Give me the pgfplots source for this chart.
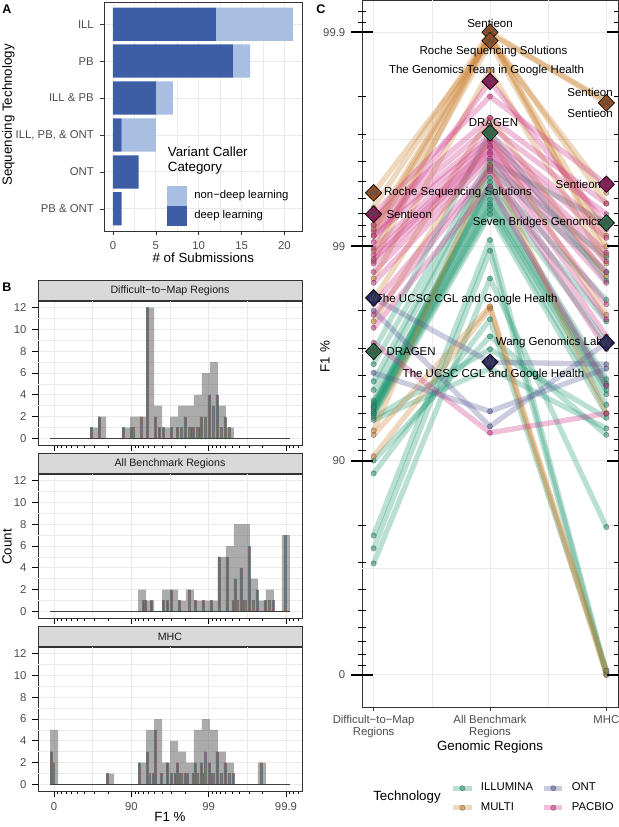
\documentclass[border=0pt]{standalone}
\usepackage{fontspec}
\setmainfont{Liberation Sans}
\usepackage{pgfplots}
\usepackage{pgfplotstable}
\pgfplotsset{compat=1.18}

\definecolor{deep}{RGB}{61,93,165}
\definecolor{nondeep}{RGB}{168,191,225}
\definecolor{ill}{RGB}{27,150,110}
\definecolor{multi}{RGB}{200,125,40}
\definecolor{ont}{RGB}{85,85,150}
\definecolor{pb}{RGB}{205,45,135}
\definecolor{illD}{RGB}{45,110,75}
\definecolor{multiD}{RGB}{150,80,35}
\definecolor{ontD}{RGB}{40,40,95}
\definecolor{pbD}{RGB}{140,25,90}

\newcommand\ticksz{\fontsize{6.8}{7.8}\selectfont}
\newcommand\titsz{\fontsize{8}{9.2}\selectfont}
\newcommand\stripsz{\fontsize{6.4}{7}\selectfont}
\newcommand\labsz{\fontsize{6.9}{7.5}\selectfont}

% histogram counts, bin k is centred at k*0.103448 (phred-like F1 scale)
\pgfplotstableread{
k all ill multi ont pb
5 1 1 0 0 0
6 2 2 0 0 0
9 1 1 0 0 0
10 2 1 1 0 0
11 2 0 2 0 0
12 12 12 0 0 0
13 3 2 0 1 0
14 1 1 0 0 0
15 2 1 0 0 1
16 3 0 1 0 2
17 3 0 1 1 1
18 4 0 1 1 2
19 6 0 2 0 4
20 7 0 3 0 4
21 3 0 1 0 2
22 1 0 1 0 0
}\hardmap
\pgfplotstableread{
k all ill multi ont pb
11 2 0 0 1 1
12 1 0 0 1 0
14 2 1 0 1 0
15 2 2 0 0 0
16 1 1 0 0 0
17 2 0 2 0 0
18 1 1 0 0 0
19 1 1 0 0 0
20 1 1 0 0 0
21 5 5 0 0 0
22 6 5 0 0 1
23 8 3 1 0 4
24 8 1 1 0 6
25 3 0 1 0 2
26 1 0 0 0 1
27 2 0 1 0 1
29 7 0 7 0 0
}\allbench
\pgfplotstableread{
k all ill multi ont pb
0 5 3 2 0 0
7 1 1 0 0 0
11 2 2 0 0 0
12 5 3 1 0 1
13 6 5 0 0 1
14 2 0 0 2 0
15 4 1 0 1 2
16 3 1 1 0 1
17 2 1 0 0 1
18 5 2 1 0 2
19 6 1 3 0 2
20 5 1 1 0 3
21 3 0 1 0 2
22 2 0 1 0 1
26 2 0 2 0 0
}\mhc

\pgfplotsset{
  gg/.style={scale only axis, anchor=north west,
    axis line style={draw=black!80, line width=0.5pt},
    tick style={draw=black!80, line width=0.4pt},
    tick align=outside, major tick length=2.6pt, minor tick length=0pt,
    tick label style={font=\ticksz, text=black!70},
    /pgf/number format/assume math mode=true,
    major grid style={draw=black!8, line width=0.5pt},
    minor grid style={draw=black!8, line width=0.3pt},
    xtick pos=bottom, ytick pos=left},
  logx/.style={minor xtick={0.0458,0.0969,0.1549,0.2218,0.3010,0.3979,0.5229,0.6990,
    1.0458,1.0969,1.1549,1.2218,1.3010,1.3979,1.5229,1.6990,
    2.0458,2.0969,2.1549,2.2218,2.3010,2.3979,2.5229,2.6990,3.0458,3.0969,3.1549}},
  logy/.style={minor ytick={0.0458,0.0969,0.1549,0.2218,0.3010,0.3979,0.5229,0.6990,
    1.0458,1.0969,1.1549,1.2218,1.3010,1.3979,1.5229,1.6990,
    2.0458,2.0969,2.1549,2.2218,2.3010,2.3979,2.5229,2.6990,3.0458,3.0969}},
  sqleg/.style={legend image code/.code={\fill[##1] (0pt,-6pt) rectangle (12pt,6pt);}},
  lnleg/.style={legend image code/.code={\draw[mark repeat=2, mark phase=2, ##1] plot coordinates {(0pt,0pt) (5.5pt,0pt) (11pt,0pt)};}},
  lnsty/.style={color=#1, line width=3.2pt, draw opacity=0.3, line join=round,
    mark=*, mark size=1.6pt,
    mark options={draw=black!70, fill=#1, draw opacity=0.55, fill opacity=0.55, line width=0.3pt}},
  winner/.style={only marks, mark=diamond*, mark size=5pt,
    mark options={fill=#1, draw=black, line width=0.4pt, xscale=1.3}},
  wtext/.style={only marks, mark=text, text mark={W}, text mark as node=true,
    text mark style={font=\fontsize{6}{6}\selectfont, text=black!70}},
  hist/.style={gg, width=158.4pt, height=86.4pt, logx,
    xmin=-0.207, xmax=3.207, ymin=-0.6, ymax=12.6,
    xtick={0,1,2,3}, ytick={0,2,...,12},
    extra x ticks={0.5,1.5,2.5}, extra y ticks={1,3,...,11},
    extra tick style={grid=major, major grid style={draw=black!8, line width=0.3pt}, major tick length=0pt},
    extra x tick labels={}, extra y tick labels={},
    xmajorgrids, ymajorgrids,
    tick style={draw=black, line width=0.4pt},
    major tick length=3.4pt, minor tick length=2pt,
    every axis title shift=0pt,
    title style={anchor=south, draw=black!80, fill=black!15, line width=0.5pt,
      minimum width=158.4pt, minimum height=12pt, inner sep=0pt, font=\stripsz, text=black!90}},
  bw/.style={ybar, bar width=0.025862, bar shift=#1, draw=black!50, line width=0.15pt},
  tot/.style={ybar, bar width=0.103448, bar shift=0, fill=black!60, fill opacity=0.55, draw=none},
}

\begin{document}
\begin{tikzpicture}
\useasboundingbox (0,0) rectangle (371.4pt,-496.2pt);

% ---------------- A ----------------
\begin{axis}[gg, at={(62.4pt,-1.2pt)}, width=118.8pt, height=137.4pt,
  xbar stacked, bar width=0.9,
  xmin=-1.05, xmax=22.05, ymin=0.4, ymax=6.6, y dir=reverse,
  xtick={0,5,10,15,20}, minor xtick={2.5,7.5,12.5,17.5},
  ytick={1,2,3,4,5,6},
  yticklabels={ILL,PB,ILL \& PB,{ILL, PB, \& ONT},ONT,PB \& ONT},
  xmajorgrids, xminorgrids, ymajorgrids,
  legend style={at={(0.293,0.213)}, anchor=north west, draw=none, fill=none,
    font=\ticksz, row sep=0pt, nodes={inner sep=0.7pt},
    /tikz/every odd column/.append style={column sep=3.5pt}},
  legend cell align=left, reverse legend]
\addplot[fill=deep, draw=none, sqleg]
  coordinates {(12,1) (14,2) (5,3) (1,4) (3,5) (1,6)};
\addplot[fill=nondeep, draw=none, sqleg]
  coordinates {(9,1) (2,2) (2,3) (4,4) (0,5) (0,6)};
\legend{deep learning, non−deep learning}
\end{axis}
\node[font=\titsz, anchor=west, align=left] at (97.2pt,-96.3pt) {Variant Caller\\Category};

% ---------------- B ----------------
\begin{axis}[hist, at={(22.8pt,-180.6pt)}, xticklabels={}, title={Difficult−to−Map Regions}]
\addplot[bw=-0.03879, fill=ill] table[x expr=\thisrow{k}*0.103448, y=ill] {\hardmap};
\addplot[bw=-0.01293, fill=multi] table[x expr=\thisrow{k}*0.103448, y=multi] {\hardmap};
\addplot[bw=0.01293, fill=ont] table[x expr=\thisrow{k}*0.103448, y=ont] {\hardmap};
\addplot[bw=0.03879, fill=pb] table[x expr=\thisrow{k}*0.103448, y=pb] {\hardmap};
\addplot[tot] table[x expr=\thisrow{k}*0.103448, y=all] {\hardmap};
\addplot[black!75, line width=0.5pt] coordinates {(-0.0517,0) (3.0517,0)};
\end{axis}

\begin{axis}[hist, at={(22.8pt,-284.4pt)}, xticklabels={}, title={All Benchmark Regions}]
\addplot[bw=-0.03879, fill=ill] table[x expr=\thisrow{k}*0.103448, y=ill] {\allbench};
\addplot[bw=-0.01293, fill=multi] table[x expr=\thisrow{k}*0.103448, y=multi] {\allbench};
\addplot[bw=0.01293, fill=ont] table[x expr=\thisrow{k}*0.103448, y=ont] {\allbench};
\addplot[bw=0.03879, fill=pb] table[x expr=\thisrow{k}*0.103448, y=pb] {\allbench};
\addplot[tot] table[x expr=\thisrow{k}*0.103448, y=all] {\allbench};
\addplot[black!75, line width=0.5pt] coordinates {(-0.0517,0) (3.0517,0)};
\end{axis}

\begin{axis}[hist, at={(22.8pt,-388.2pt)}, xticklabels={0,90,99,99.9}, title={MHC}]
\addplot[bw=-0.03879, fill=ill] table[x expr=\thisrow{k}*0.103448, y=ill] {\mhc};
\addplot[bw=-0.01293, fill=multi] table[x expr=\thisrow{k}*0.103448, y=multi] {\mhc};
\addplot[bw=0.01293, fill=ont] table[x expr=\thisrow{k}*0.103448, y=ont] {\mhc};
\addplot[bw=0.03879, fill=pb] table[x expr=\thisrow{k}*0.103448, y=pb] {\mhc};
\addplot[tot] table[x expr=\thisrow{k}*0.103448, y=all] {\mhc};
\addplot[black!75, line width=0.5pt] coordinates {(-0.0517,0) (3.0517,0)};
\end{axis}

% ---------------- C ----------------
\begin{axis}[gg, at={(217.2pt,0pt)}, width=153.6pt, height=424.2pt,
  xmin=0.9, xmax=3.1, ymin=-0.15, ymax=3.15,
  xtick={1,2,3}, xticklabels={Difficult−to−Map\\Regions, All Benchmark\\Regions, MHC},
  xticklabel style={align=center, font=\fontsize{6.8}{7.4}\selectfont, yshift=1.2pt},
  ytick={0,1,2,3}, yticklabels={},
  extra x ticks={1.5,2.5}, extra y ticks={0.5,1.5,2.5},
  extra x tick labels={}, extra y tick labels={},
  extra tick style={grid=major, major grid style={draw=black!8, line width=0.3pt}, major tick length=0pt},
  xmajorgrids, ymajorgrids,
  legend style={at={(0.325,-0.1)}, anchor=north west, draw=none, fill=none,
    font=\ticksz, row sep=3.5pt, nodes={inner sep=1pt},
    /tikz/every odd column/.append style={column sep=3pt},
    /tikz/every even column/.append style={column sep=4pt}},
  legend columns=2, legend cell align=left, lnleg]
\addlegendimage{lnsty=ill}\addlegendentry{ILLUMINA}
\addlegendimage{lnsty=ont}\addlegendentry{ONT}
\addlegendimage{lnsty=multi}\addlegendentry{MULTI}
\addlegendimage{lnsty=pb}\addlegendentry{PACBIO}
% ILLUMINA submissions
\addplot[lnsty=ill] coordinates {(1,1.51) (2,2.53) (3,1.84)};
\addplot[lnsty=ill] coordinates {(1,1.45) (2,2.40) (3,2.11)};
\addplot[lnsty=ill] coordinates {(1,1.37) (2,2.38) (3,1.95)};
\addplot[lnsty=ill] coordinates {(1,1.33) (2,2.36) (3,1.88)};
\addplot[lnsty=ill] coordinates {(1,0.52) (2,1.85) (3,0.69)};
\addplot[lnsty=ill] coordinates {(1,0.59) (2,1.98) (3,0.00)};
\addplot[lnsty=ill] coordinates {(1,0.65) (2,2.03) (3,0.01)};
\addplot[lnsty=ill] coordinates {(1,0.94) (2,1.66) (3,0.02)};
\addplot[lnsty=ill] coordinates {(1,1.00) (2,1.58) (3,1.12)};
\addplot[lnsty=ill] coordinates {(1,1.19) (2,1.43) (3,1.15)};
\addplot[lnsty=ill] coordinates {(1,1.20) (2,1.52) (3,1.20)};
\addplot[lnsty=ill] coordinates {(1,1.21) (2,2.15) (3,1.22)};
\addplot[lnsty=ill] coordinates {(1,1.22) (2,2.17) (3,1.26)};
\addplot[lnsty=ill] coordinates {(1,1.23) (2,2.19) (3,1.31)};
\addplot[lnsty=ill] coordinates {(1,1.24) (2,2.20) (3,1.33)};
\addplot[lnsty=ill] coordinates {(1,1.25) (2,2.22) (3,1.35)};
\addplot[lnsty=ill] coordinates {(1,1.26) (2,2.25) (3,1.36)};
\addplot[lnsty=ill] coordinates {(1,1.27) (2,2.27) (3,1.38)};
\addplot[lnsty=ill] coordinates {(1,1.28) (2,2.28) (3,1.55)};
\addplot[lnsty=ill] coordinates {(1,1.22) (2,2.30) (3,1.65)};
\addplot[lnsty=ill] coordinates {(1,1.25) (2,2.32) (3,1.75)};
% MULTI submissions
\addplot[lnsty=multi] coordinates {(1,2.18) (2,3.00) (3,2.67)};
\addplot[lnsty=multi] coordinates {(1,2.25) (2,2.96) (3,2.25)};
\addplot[lnsty=multi] coordinates {(1,2.10) (2,2.99) (3,2.68)};
\addplot[lnsty=multi] coordinates {(1,2.08) (2,2.98) (3,2.20)};
\addplot[lnsty=multi] coordinates {(1,2.05) (2,2.97) (3,2.05)};
\addplot[lnsty=multi] coordinates {(1,1.98) (2,2.95) (3,2.00)};
\addplot[lnsty=multi] coordinates {(1,1.93) (2,2.99) (3,1.96)};
\addplot[lnsty=multi] coordinates {(1,1.85) (2,2.82) (3,1.92)};
\addplot[lnsty=multi] coordinates {(1,1.75) (2,2.60) (3,1.86)};
\addplot[lnsty=multi] coordinates {(1,1.65) (2,2.50) (3,1.68)};
\addplot[lnsty=multi] coordinates {(1,1.02) (2,1.71) (3,0.00)};
\addplot[lnsty=multi] coordinates {(1,1.12) (2,1.72) (3,0.02)};
\addplot[lnsty=multi] coordinates {(1,1.14) (2,2.38) (3,1.22)};
% ONT submissions
\addplot[lnsty=ont] coordinates {(1,1.76) (2,1.46) (3,1.45)};
\addplot[lnsty=ont] coordinates {(1,1.70) (2,1.16) (3,1.55)};
\addplot[lnsty=ont] coordinates {(1,1.41) (2,1.23) (3,1.43)};
% PACBIO submissions
\addplot[lnsty=pb] coordinates {(1,2.02) (2,2.77) (3,2.10)};
\addplot[lnsty=pb] coordinates {(1,2.15) (2,2.70) (3,2.29)};
\addplot[lnsty=pb] coordinates {(1,2.13) (2,2.60) (3,2.20)};
\addplot[lnsty=pb] coordinates {(1,2.10) (2,2.56) (3,2.15)};
\addplot[lnsty=pb] coordinates {(1,2.07) (2,2.52) (3,2.08)};
\addplot[lnsty=pb] coordinates {(1,2.05) (2,2.50) (3,2.04)};
\addplot[lnsty=pb] coordinates {(1,1.99) (2,2.49) (3,1.97)};
\addplot[lnsty=pb] coordinates {(1,1.96) (2,2.47) (3,1.93)};
\addplot[lnsty=pb] coordinates {(1,1.94) (2,2.46) (3,1.88)};
\addplot[lnsty=pb] coordinates {(1,1.92) (2,2.44) (3,1.83)};
\addplot[lnsty=pb] coordinates {(1,1.88) (2,2.43) (3,1.73)};
\addplot[lnsty=pb] coordinates {(1,1.83) (2,2.41) (3,1.66)};
\addplot[lnsty=pb] coordinates {(1,1.73) (2,2.37) (3,1.58)};
\addplot[lnsty=pb] coordinates {(1,1.68) (2,2.35) (3,1.52)};
\addplot[lnsty=pb] coordinates {(1,1.62) (2,2.28) (3,1.35)};
\addplot[lnsty=pb] coordinates {(1,1.55) (2,1.13) (3,1.22)};
% winners
\addplot[winner=multiD] coordinates {(1,2.25) (2,3.00) (2,2.96) (3,2.67)};
\addplot[winner=pbD] coordinates {(1,2.15) (2,2.77) (3,2.29)};
\addplot[winner=illD] coordinates {(1,1.51) (2,2.53) (3,2.11)};
\addplot[winner=ontD] coordinates {(1,1.76) (2,1.46) (3,1.55)};
\addplot[wtext] coordinates {(1,2.25) (2,3.00) (2,2.96) (3,2.67) (1,2.15) (2,2.77) (3,2.29)
  (1,1.51) (2,2.53) (3,2.11) (1,1.76) (2,1.46) (3,1.55)};
% submitter names
\node[font=\labsz] at (axis cs:2.00,3.04) {Sentieon};
\node[font=\labsz] at (axis cs:2.03,2.91) {Roche Sequencing Solutions};
\node[font=\labsz] at (axis cs:1.97,2.82) {The Genomics Team in Google Health};
\node[font=\labsz] at (axis cs:2.86,2.72) {Sentieon};
\node[font=\labsz] at (axis cs:2.86,2.62) {Sentieon};
\node[font=\labsz] at (axis cs:2.03,2.58) {DRAGEN};
\node[font=\labsz, anchor=west] at (axis cs:1.04,2.25) {Roche Sequencing Solutions};
\node[font=\labsz, anchor=west] at (axis cs:1.06,2.15) {Sentieon};
\node[font=\labsz] at (axis cs:2.76,2.29) {Sentieon};
\node[font=\labsz] at (axis cs:2.41,2.11) {Seven Bridges Genomics};
\node[font=\labsz] at (axis cs:1.80,1.75) {The UCSC CGL and Google Health};
\node[font=\labsz, anchor=west] at (axis cs:1.06,1.51) {DRAGEN};
\node[font=\labsz] at (axis cs:2.51,1.55) {Wang Genomics Lab};
\node[font=\labsz] at (axis cs:2.03,1.40) {The UCSC CGL and Google Health};
\end{axis}

% y ticks of C (long log ticks crossing the frame)
\begin{axis}[scale only axis, anchor=north west, at={(217.2pt,0pt)}, width=153.6pt, height=424.2pt,
  xmin=0.9, xmax=3.1, ymin=-0.15, ymax=3.15, logy,
  axis line style={draw=none}, xtick=\empty,
  ytick={0,1,2,3}, yticklabels={0,90,99,99.9},
  ytick pos=both, yticklabel pos=left, tick align=center,
  major tick length=13pt, minor tick length=4.5pt,
  major tick style={draw=black, line width=1.1pt},
  minor tick style={draw=black, line width=0.5pt},
  tick label style={font=\ticksz, text=black!70},
  /pgf/number format/assume math mode=true]
\end{axis}

% titles and panel letters
\node[font=\titsz, rotate=90] at (5.1pt,-69pt) {Sequencing Technology};
\node[font=\titsz] at (122pt,-154.8pt) {\# of Submissions};
\node[font=\titsz, rotate=90] at (4.2pt,-328.2pt) {Count};
\node[font=\titsz] at (102pt,-490.2pt) {F1 \%};
\node[font=\titsz, rotate=90] at (195pt,-214pt) {F1 \%};
\node[font=\titsz] at (294pt,-448.5pt) {Genomic Regions};
\node[font=\titsz] at (244.2pt,-478.2pt) {Technology};
\node[font=\bfseries\fontsize{7.5}{8}\selectfont] at (4.2pt,-5.4pt) {A};
\node[font=\bfseries\fontsize{7.5}{8}\selectfont] at (4.2pt,-172.2pt) {B};
\node[font=\bfseries\fontsize{7.5}{8}\selectfont] at (192.6pt,-5.4pt) {C};
\end{tikzpicture}
\end{document}
